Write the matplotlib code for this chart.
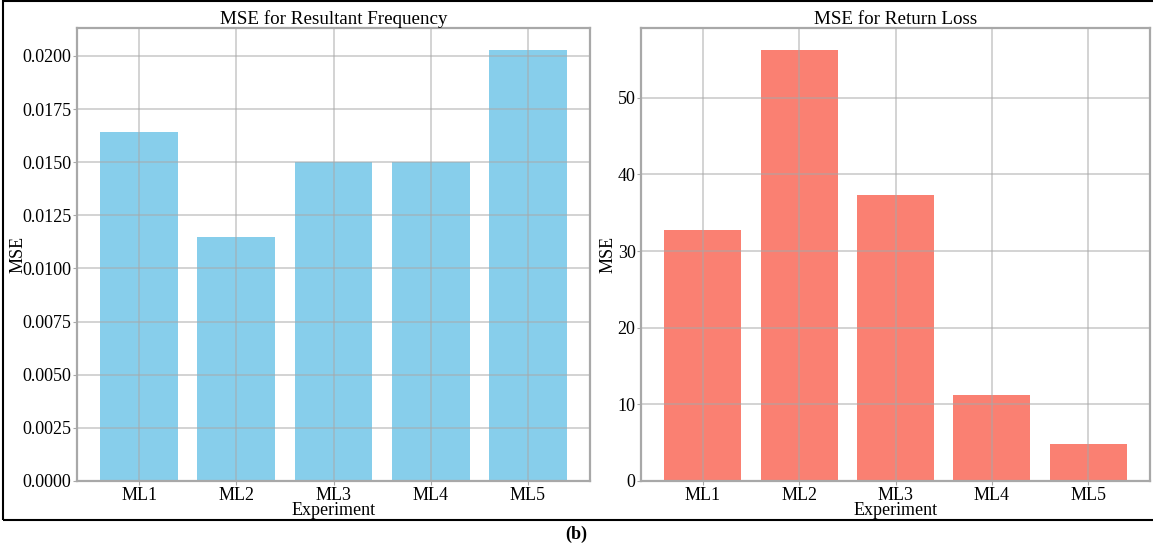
import matplotlib.pyplot as plt
from matplotlib.patches import Rectangle

# values
experiments = ['ML1', 'ML2', 'ML3', 'ML4', 'ML5']
mse_freq = [0.0164, 0.0115, 0.0150, 0.0150, 0.0203]
mse_loss = [32.7, 56.3, 37.3, 11.2, 4.8]

plt.rcParams['font.family'] = ['Liberation Serif', 'DejaVu Serif']
plt.rcParams['font.size'] = 13

fig = plt.figure(figsize=(11.53, 5.48), dpi=100)
ax1 = fig.add_axes([0.0668, 0.1223, 0.4449, 0.8266])
ax2 = fig.add_axes([0.556, 0.1223, 0.4414, 0.8266])


def style(ax, title, pad):
    ax.set_title(title, fontsize=13.7, pad=3)
    ax.set_xlabel('Experiment', fontsize=13, labelpad=-1)
    ax.set_ylabel('MSE', fontsize=13, labelpad=pad)
    ax.grid(True, color='#a8a8a8', alpha=0.5, linewidth=1.4)
    ax.set_axisbelow(False)
    for s in ax.spines.values():
        s.set_color('#a8a8a8')
        s.set_linewidth(1.6)
    ax.tick_params(length=3, color='#a8a8a8', pad=1, labelsize=13)


ax1.bar(experiments, mse_freq, width=0.8, color='#87CEEB')
style(ax1, 'MSE for Resultant Frequency', -3)
ax1.set_yticks([i * 0.0025 for i in range(9)])
ax1.set_yticklabels(['%.4f' % (i * 0.0025) for i in range(9)])

ax2.bar(experiments, mse_loss, width=0.8, color='#FA8072')
style(ax2, 'MSE for Return Loss', 1)
ax2.set_yticks([0, 10, 20, 30, 40, 50])

# frame round the panel and the caption below it
fig.patches.append(Rectangle((0.003, 0.051), 1.2, 0.947, transform=fig.transFigure,
                             fill=False, edgecolor='black', linewidth=1.5))
fig.text(0.5, 0.025, '(b)', ha='center', va='center', fontsize=13, fontweight='bold')

fig.savefig('out.png', dpi=100)
